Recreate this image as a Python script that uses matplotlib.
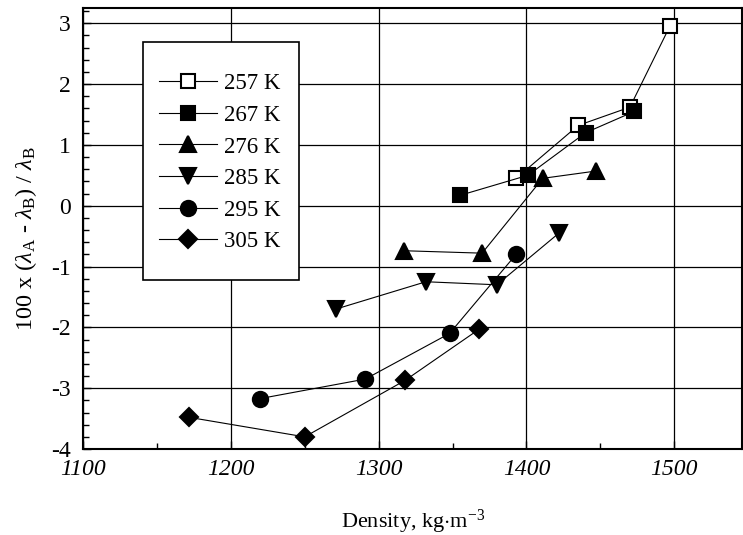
"""Thermal conductivity difference vs density, six isotherms."""

import matplotlib
matplotlib.use('Agg')
import matplotlib.pyplot as plt
from matplotlib.patches import Rectangle
from matplotlib.ticker import MultipleLocator

plt.rcParams['font.family'] = ['Liberation Serif', 'DejaVu Serif']
plt.rcParams['mathtext.fontset'] = 'custom'
plt.rcParams['mathtext.rm'] = 'Liberation Serif'
plt.rcParams['mathtext.it'] = 'Liberation Serif:italic'
plt.rcParams['axes.unicode_minus'] = False

# data
labels = ['257 K', '267 K', '276 K', '285 K', '295 K', '305 K']
markers = ['s', 's', '^', 'v', 'o', 'D']
filled = [False, True, True, True, True, True]

dens_257 = [1393, 1435, 1470, 1497]
dev_257 = [0.45, 1.32, 1.62, 2.95]
dens_267 = [1355, 1401, 1440, 1473]
dev_267 = [0.17, 0.50, 1.20, 1.55]
dens_276 = [1317, 1370, 1411, 1447]
dev_276 = [-0.74, -0.78, 0.45, 0.57]
dens_285 = [1271, 1332, 1380, 1422]
dev_285 = [-1.70, -1.25, -1.30, -0.45]
dens_295 = [1220, 1291, 1348, 1393]
dev_295 = [-3.17, -2.85, -2.10, -0.80]
dens_305 = [1172, 1250, 1318, 1368]
dev_305 = [-3.48, -3.80, -2.87, -2.03]

densities = [dens_257, dens_267, dens_276, dens_285, dens_295, dens_305]
deviations = [dev_257, dev_267, dev_276, dev_285, dev_295, dev_305]

fig = plt.figure(figsize=(7.43, 5.35), dpi=100)
ax = fig.add_axes([0.1117, 0.1607, 0.8873, 0.8243])

sizes = {'s': 9.5, '^': 11, 'v': 11, 'o': 11, 'D': 9}
for x, y, lab, m, f in zip(densities, deviations, labels, markers, filled):
    ax.plot(x, y, color='black', lw=0.8, marker=m, ms=sizes[m],
            mfc='black' if f else 'white', mec='black', mew=1.5,
            label=lab, zorder=3)

ax.set_xlim(1100, 1546)
ax.set_ylim(-4, 3.25)
ax.xaxis.set_major_locator(MultipleLocator(100))
ax.xaxis.set_minor_locator(MultipleLocator(50))
ax.yaxis.set_major_locator(MultipleLocator(1))
ax.yaxis.set_minor_locator(MultipleLocator(0.2))
ax.tick_params(which='both', direction='in', top=False, right=False)
ax.tick_params(which='major', length=6, width=1, labelsize=17)
ax.tick_params(axis='x', which='major', pad=7)
ax.tick_params(axis='y', which='major', pad=9)
ax.tick_params(which='minor', length=4, width=1)
for t in ax.get_xticklabels():
    t.set_fontstyle('italic')
ax.grid(True, which='major', color='black', lw=0.9)
for s in ax.spines.values():
    s.set_linewidth(1.5)

ax.set_xlabel(r'Density, kg$\cdot$m$^{\mathregular{-3}}$', fontsize=16,
              labelpad=20)
ax.set_ylabel(r'100 x ($\lambda_{\mathregular{A}}$ - $\lambda_{\mathregular{B}}$) / $\lambda_{\mathregular{B}}$',
              fontsize=17.5)
ax.yaxis.set_label_coords(-0.066, 0.477)

# legend box: drawn separately so the vertical padding can be larger
box = Rectangle((0.091, 0.383), 0.237, 0.540, transform=ax.transAxes,
                facecolor='white', edgecolor='black', lw=1.2, zorder=4)
ax.add_patch(box)
leg = ax.legend(loc='upper left', bbox_to_anchor=(0.116, 0.852),
                fontsize=16.5, frameon=False, labelspacing=0.46,
                handlelength=2.5, handletextpad=0.3, borderpad=0,
                borderaxespad=0)
leg.set_zorder(5)

fig.savefig('out.png', dpi=100)
